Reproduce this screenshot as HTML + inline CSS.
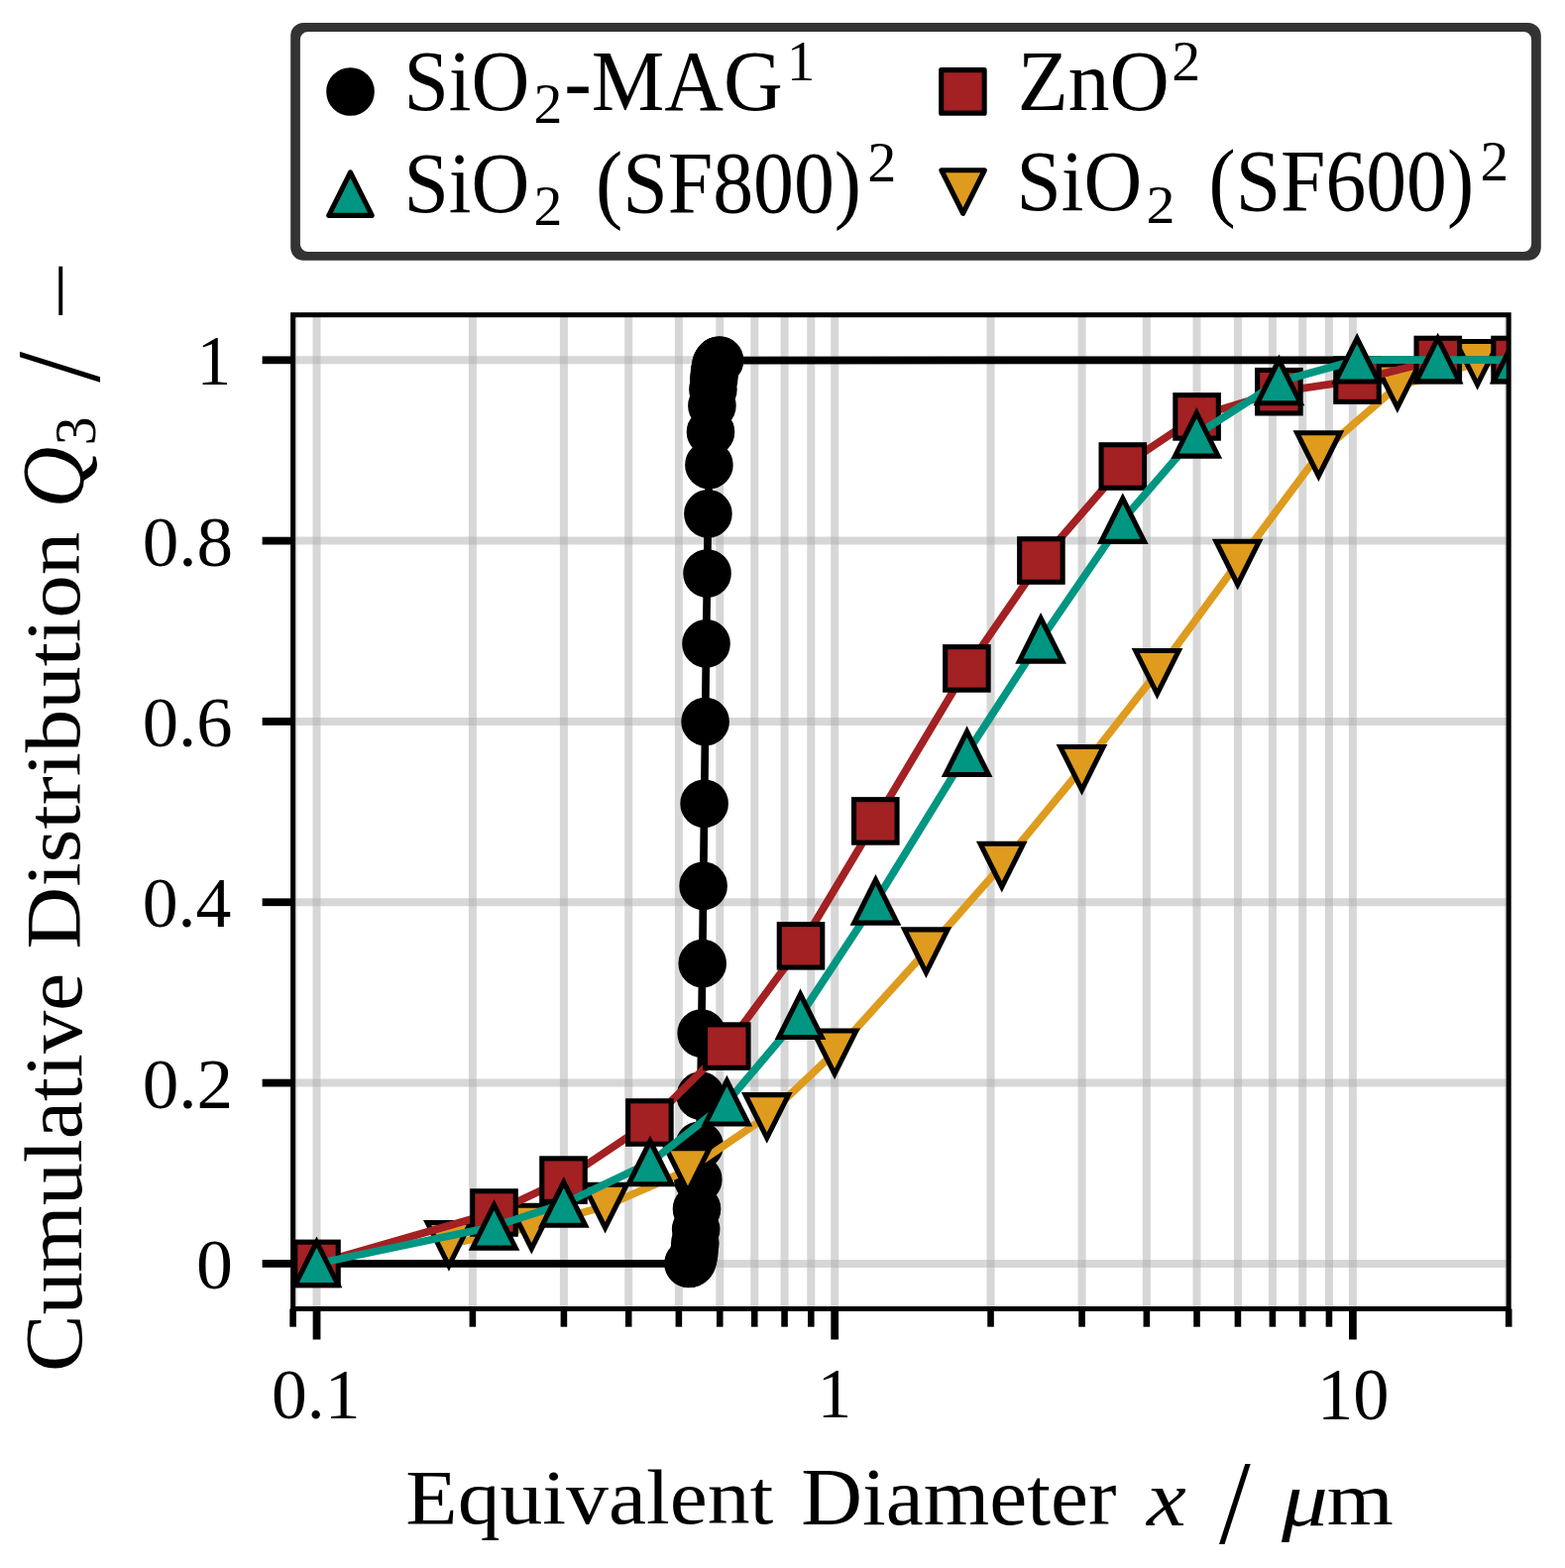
<!DOCTYPE html>
<html><head><meta charset="utf-8"><title>Cumulative Distribution</title>
<style>html,body{margin:0;padding:0;background:#fff;overflow:hidden;} svg{display:block;}</style></head>
<body><svg width="1579" height="1582" viewBox="0 0 1579 1582">
<defs><clipPath id="ax"><rect x="295.6" y="317.7" width="1226.60" height="1002.80"/></clipPath></defs>
<rect width="1579" height="1582" fill="#fff"/>
<g stroke="#b0b0b0" stroke-opacity="0.5" stroke-width="8.0" clip-path="url(#ax)"><line x1="295.61" y1="317.70" x2="295.61" y2="1320.50"/><line x1="319.53" y1="317.70" x2="319.53" y2="1320.50"/><line x1="476.87" y1="317.70" x2="476.87" y2="1320.50"/><line x1="568.91" y1="317.70" x2="568.91" y2="1320.50"/><line x1="634.21" y1="317.70" x2="634.21" y2="1320.50"/><line x1="684.86" y1="317.70" x2="684.86" y2="1320.50"/><line x1="726.25" y1="317.70" x2="726.25" y2="1320.50"/><line x1="761.24" y1="317.70" x2="761.24" y2="1320.50"/><line x1="791.55" y1="317.70" x2="791.55" y2="1320.50"/><line x1="818.28" y1="317.70" x2="818.28" y2="1320.50"/><line x1="842.20" y1="317.70" x2="842.20" y2="1320.50"/><line x1="999.54" y1="317.70" x2="999.54" y2="1320.50"/><line x1="1091.58" y1="317.70" x2="1091.58" y2="1320.50"/><line x1="1156.88" y1="317.70" x2="1156.88" y2="1320.50"/><line x1="1207.53" y1="317.70" x2="1207.53" y2="1320.50"/><line x1="1248.92" y1="317.70" x2="1248.92" y2="1320.50"/><line x1="1283.91" y1="317.70" x2="1283.91" y2="1320.50"/><line x1="1314.22" y1="317.70" x2="1314.22" y2="1320.50"/><line x1="1340.95" y1="317.70" x2="1340.95" y2="1320.50"/><line x1="1364.87" y1="317.70" x2="1364.87" y2="1320.50"/><line x1="1522.21" y1="317.70" x2="1522.21" y2="1320.50"/><line x1="295.60" y1="1274.90" x2="1522.20" y2="1274.90"/><line x1="295.60" y1="1092.58" x2="1522.20" y2="1092.58"/><line x1="295.60" y1="910.26" x2="1522.20" y2="910.26"/><line x1="295.60" y1="727.94" x2="1522.20" y2="727.94"/><line x1="295.60" y1="545.62" x2="1522.20" y2="545.62"/><line x1="295.60" y1="363.30" x2="1522.20" y2="363.30"/></g>
<g stroke="#000" fill="none"><line x1="319.53" y1="1320.50" x2="319.53" y2="1351.50" stroke-width="7.8"/><line x1="842.20" y1="1320.50" x2="842.20" y2="1351.50" stroke-width="7.8"/><line x1="1364.87" y1="1320.50" x2="1364.87" y2="1351.50" stroke-width="7.8"/><line x1="295.61" y1="1320.50" x2="295.61" y2="1338.70" stroke-width="6.6"/><line x1="476.87" y1="1320.50" x2="476.87" y2="1338.70" stroke-width="6.6"/><line x1="568.91" y1="1320.50" x2="568.91" y2="1338.70" stroke-width="6.6"/><line x1="634.21" y1="1320.50" x2="634.21" y2="1338.70" stroke-width="6.6"/><line x1="684.86" y1="1320.50" x2="684.86" y2="1338.70" stroke-width="6.6"/><line x1="726.25" y1="1320.50" x2="726.25" y2="1338.70" stroke-width="6.6"/><line x1="761.24" y1="1320.50" x2="761.24" y2="1338.70" stroke-width="6.6"/><line x1="791.55" y1="1320.50" x2="791.55" y2="1338.70" stroke-width="6.6"/><line x1="818.28" y1="1320.50" x2="818.28" y2="1338.70" stroke-width="6.6"/><line x1="999.54" y1="1320.50" x2="999.54" y2="1338.70" stroke-width="6.6"/><line x1="1091.58" y1="1320.50" x2="1091.58" y2="1338.70" stroke-width="6.6"/><line x1="1156.88" y1="1320.50" x2="1156.88" y2="1338.70" stroke-width="6.6"/><line x1="1207.53" y1="1320.50" x2="1207.53" y2="1338.70" stroke-width="6.6"/><line x1="1248.92" y1="1320.50" x2="1248.92" y2="1338.70" stroke-width="6.6"/><line x1="1283.91" y1="1320.50" x2="1283.91" y2="1338.70" stroke-width="6.6"/><line x1="1314.22" y1="1320.50" x2="1314.22" y2="1338.70" stroke-width="6.6"/><line x1="1340.95" y1="1320.50" x2="1340.95" y2="1338.70" stroke-width="6.6"/><line x1="1522.21" y1="1320.50" x2="1522.21" y2="1338.70" stroke-width="6.6"/><line x1="295.60" y1="1274.90" x2="264.60" y2="1274.90" stroke-width="7.8"/><line x1="295.60" y1="1092.58" x2="264.60" y2="1092.58" stroke-width="7.8"/><line x1="295.60" y1="910.26" x2="264.60" y2="910.26" stroke-width="7.8"/><line x1="295.60" y1="727.94" x2="264.60" y2="727.94" stroke-width="7.8"/><line x1="295.60" y1="545.62" x2="264.60" y2="545.62" stroke-width="7.8"/><line x1="295.60" y1="363.30" x2="264.60" y2="363.30" stroke-width="7.8"/></g>
<g clip-path="url(#ax)"><path d="M319.50,1274.90 L694.50,1274.83 L695.35,1274.74 L696.20,1274.53 L697.05,1274.09 L697.90,1273.20 L698.75,1271.50 L699.60,1268.40 L700.45,1263.03 L701.30,1254.20 L702.15,1240.37 L703.00,1219.79 L704.30,1190.04 L705.60,1155.74 L706.90,1105.65 L707.70,1042.49 L708.70,972.12 L709.60,893.85 L710.60,810.74 L711.60,728.06 L712.50,649.39 L713.50,578.50 L714.40,518.31 L715.40,469.09 L717.00,435.83 L718.40,409.34 L719.40,392.81 L720.24,381.87 L721.08,374.58 L721.91,369.91 L722.75,367.04 L723.59,365.34 L724.42,364.37 L725.26,363.84 L726.10,363.57 L1530.00,363.30" fill="none" stroke="#000" stroke-width="7.7" stroke-linejoin="round" stroke-linecap="butt"/><g stroke="#000" stroke-width="5.1"><circle cx="694.50" cy="1274.83" r="21.75" fill="#000"/><circle cx="695.35" cy="1274.74" r="21.75" fill="#000"/><circle cx="696.20" cy="1274.53" r="21.75" fill="#000"/><circle cx="697.05" cy="1274.09" r="21.75" fill="#000"/><circle cx="697.90" cy="1273.20" r="21.75" fill="#000"/><circle cx="698.75" cy="1271.50" r="21.75" fill="#000"/><circle cx="699.60" cy="1268.40" r="21.75" fill="#000"/><circle cx="700.45" cy="1263.03" r="21.75" fill="#000"/><circle cx="701.30" cy="1254.20" r="21.75" fill="#000"/><circle cx="702.15" cy="1240.37" r="21.75" fill="#000"/><circle cx="703.00" cy="1219.79" r="21.75" fill="#000"/><circle cx="704.30" cy="1190.04" r="21.75" fill="#000"/><circle cx="705.60" cy="1155.74" r="21.75" fill="#000"/><circle cx="706.90" cy="1105.65" r="21.75" fill="#000"/><circle cx="707.70" cy="1042.49" r="21.75" fill="#000"/><circle cx="708.70" cy="972.12" r="21.75" fill="#000"/><circle cx="709.60" cy="893.85" r="21.75" fill="#000"/><circle cx="710.60" cy="810.74" r="21.75" fill="#000"/><circle cx="711.60" cy="728.06" r="21.75" fill="#000"/><circle cx="712.50" cy="649.39" r="21.75" fill="#000"/><circle cx="713.50" cy="578.50" r="21.75" fill="#000"/><circle cx="714.40" cy="518.31" r="21.75" fill="#000"/><circle cx="715.40" cy="469.09" r="21.75" fill="#000"/><circle cx="717.00" cy="435.83" r="21.75" fill="#000"/><circle cx="718.40" cy="409.34" r="21.75" fill="#000"/><circle cx="719.40" cy="392.81" r="21.75" fill="#000"/><circle cx="720.24" cy="381.87" r="21.75" fill="#000"/><circle cx="721.08" cy="374.58" r="21.75" fill="#000"/><circle cx="721.91" cy="369.91" r="21.75" fill="#000"/><circle cx="722.75" cy="367.04" r="21.75" fill="#000"/><circle cx="723.59" cy="365.34" r="21.75" fill="#000"/><circle cx="724.42" cy="364.37" r="21.75" fill="#000"/><circle cx="725.26" cy="363.84" r="21.75" fill="#000"/><circle cx="726.10" cy="363.57" r="21.75" fill="#000"/></g><path d="M452.90,1255.30 L536.30,1238.00 L610.60,1217.00 L694.00,1180.50 L773.80,1126.40 L842.10,1061.80 L934.40,959.60 L1010.80,873.00 L1091.50,775.20 L1167.50,678.30 L1248.70,568.00 L1330.40,458.50 L1409.90,389.60 L1490.60,366.30 L1571.00,363.30" fill="none" stroke="#de9b1e" stroke-width="7.7" stroke-linejoin="round"/><g stroke="#000" stroke-width="5.1" stroke-linejoin="miter"><path d="M452.90,1277.05 L431.15,1233.55 L474.65,1233.55 Z" fill="#de9b1e"/><path d="M536.30,1259.75 L514.55,1216.25 L558.05,1216.25 Z" fill="#de9b1e"/><path d="M610.60,1238.75 L588.85,1195.25 L632.35,1195.25 Z" fill="#de9b1e"/><path d="M694.00,1202.25 L672.25,1158.75 L715.75,1158.75 Z" fill="#de9b1e"/><path d="M773.80,1148.15 L752.05,1104.65 L795.55,1104.65 Z" fill="#de9b1e"/><path d="M842.10,1083.55 L820.35,1040.05 L863.85,1040.05 Z" fill="#de9b1e"/><path d="M934.40,981.35 L912.65,937.85 L956.15,937.85 Z" fill="#de9b1e"/><path d="M1010.80,894.75 L989.05,851.25 L1032.55,851.25 Z" fill="#de9b1e"/><path d="M1091.50,796.95 L1069.75,753.45 L1113.25,753.45 Z" fill="#de9b1e"/><path d="M1167.50,700.05 L1145.75,656.55 L1189.25,656.55 Z" fill="#de9b1e"/><path d="M1248.70,589.75 L1226.95,546.25 L1270.45,546.25 Z" fill="#de9b1e"/><path d="M1330.40,480.25 L1308.65,436.75 L1352.15,436.75 Z" fill="#de9b1e"/><path d="M1409.90,411.35 L1388.15,367.85 L1431.65,367.85 Z" fill="#de9b1e"/><path d="M1490.60,388.05 L1468.85,344.55 L1512.35,344.55 Z" fill="#de9b1e"/><path d="M1571.00,385.05 L1549.25,341.55 L1592.75,341.55 Z" fill="#de9b1e"/></g><path d="M319.50,1274.90 L498.50,1223.50 L568.50,1190.60 L655.40,1132.50 L733.30,1055.60 L808.00,954.30 L883.30,828.40 L975.40,674.40 L1050.40,565.50 L1132.80,470.50 L1207.60,420.40 L1290.40,395.20 L1369.50,383.60 L1450.80,363.00 L1528.60,363.00" fill="none" stroke="#a32023" stroke-width="7.7" stroke-linejoin="round"/><g stroke="#000" stroke-width="5.1" stroke-linejoin="miter"><rect x="297.75" y="1253.15" width="43.5" height="43.5" fill="#a32023"/><rect x="476.75" y="1201.75" width="43.5" height="43.5" fill="#a32023"/><rect x="546.75" y="1168.85" width="43.5" height="43.5" fill="#a32023"/><rect x="633.65" y="1110.75" width="43.5" height="43.5" fill="#a32023"/><rect x="711.55" y="1033.85" width="43.5" height="43.5" fill="#a32023"/><rect x="786.25" y="932.55" width="43.5" height="43.5" fill="#a32023"/><rect x="861.55" y="806.65" width="43.5" height="43.5" fill="#a32023"/><rect x="953.65" y="652.65" width="43.5" height="43.5" fill="#a32023"/><rect x="1028.65" y="543.75" width="43.5" height="43.5" fill="#a32023"/><rect x="1111.05" y="448.75" width="43.5" height="43.5" fill="#a32023"/><rect x="1185.85" y="398.65" width="43.5" height="43.5" fill="#a32023"/><rect x="1268.65" y="373.45" width="43.5" height="43.5" fill="#a32023"/><rect x="1347.75" y="361.85" width="43.5" height="43.5" fill="#a32023"/><rect x="1429.05" y="341.25" width="43.5" height="43.5" fill="#a32023"/><rect x="1506.85" y="341.25" width="43.5" height="43.5" fill="#a32023"/></g><path d="M319.50,1274.90 L498.50,1237.40 L568.80,1214.50 L656.00,1173.00 L733.40,1112.20 L807.50,1024.80 L883.50,909.40 L975.60,759.80 L1050.10,645.40 L1132.80,524.60 L1207.30,438.40 L1290.40,385.00 L1369.20,363.20 L1450.70,363.10 L1528.70,363.10" fill="none" stroke="#009682" stroke-width="7.7" stroke-linejoin="round"/><g stroke="#000" stroke-width="5.1" stroke-linejoin="miter"><path d="M319.50,1253.15 L297.75,1296.65 L341.25,1296.65 Z" fill="#009682"/><path d="M498.50,1215.65 L476.75,1259.15 L520.25,1259.15 Z" fill="#009682"/><path d="M568.80,1192.75 L547.05,1236.25 L590.55,1236.25 Z" fill="#009682"/><path d="M656.00,1151.25 L634.25,1194.75 L677.75,1194.75 Z" fill="#009682"/><path d="M733.40,1090.45 L711.65,1133.95 L755.15,1133.95 Z" fill="#009682"/><path d="M807.50,1003.05 L785.75,1046.55 L829.25,1046.55 Z" fill="#009682"/><path d="M883.50,887.65 L861.75,931.15 L905.25,931.15 Z" fill="#009682"/><path d="M975.60,738.05 L953.85,781.55 L997.35,781.55 Z" fill="#009682"/><path d="M1050.10,623.65 L1028.35,667.15 L1071.85,667.15 Z" fill="#009682"/><path d="M1132.80,502.85 L1111.05,546.35 L1154.55,546.35 Z" fill="#009682"/><path d="M1207.30,416.65 L1185.55,460.15 L1229.05,460.15 Z" fill="#009682"/><path d="M1290.40,363.25 L1268.65,406.75 L1312.15,406.75 Z" fill="#009682"/><path d="M1369.20,341.45 L1347.45,384.95 L1390.95,384.95 Z" fill="#009682"/><path d="M1450.70,341.35 L1428.95,384.85 L1472.45,384.85 Z" fill="#009682"/><path d="M1528.70,341.35 L1506.95,384.85 L1550.45,384.85 Z" fill="#009682"/></g></g>
<rect x="295.6" y="317.7" width="1226.60" height="1002.80" fill="none" stroke="#000" stroke-width="5" stroke-linejoin="miter"/>
<path d="M310.9,31.9 L1537.1,31.9 A8.0,8.0 0 0 1 1545.1,39.9 L1545.1,246.0 A8.0,8.0 0 0 1 1537.1,254.0 L310.9,254.0 A8.0,8.0 0 0 1 302.9,246.0 L302.9,39.9 A8.0,8.0 0 0 1 310.9,31.9 Z" fill="#fff"/><path d="M306.2,23.0 L1541.8,23.0 A13.0,13.0 0 0 1 1554.8,36.0 L1554.8,249.7 A13.0,13.0 0 0 1 1541.8,262.7 L306.2,262.7 A13.0,13.0 0 0 1 293.2,249.7 L293.2,36.0 A13.0,13.0 0 0 1 306.2,23.0 Z M310.9,31.9 L1537.1,31.9 A8.0,8.0 0 0 1 1545.1,39.9 L1545.1,246.0 A8.0,8.0 0 0 1 1537.1,254.0 L310.9,254.0 A8.0,8.0 0 0 1 302.9,246.0 L302.9,39.9 A8.0,8.0 0 0 1 310.9,31.9 Z" fill="#333" fill-rule="evenodd"/><g stroke="#000" stroke-width="5.1" stroke-linejoin="round"><circle cx="353.50" cy="92.50" r="21.75" fill="#000"/><rect x="949.65" y="70.65" width="43.5" height="43.5" fill="#a32023"/><path d="M353.50,173.85 L331.75,217.35 L375.25,217.35 Z" fill="#009682"/><path d="M971.60,215.25 L949.85,171.75 L993.35,171.75 Z" fill="#de9b1e"/></g>
<g font-family="Liberation Serif, serif" font-size="80" fill="#000"><text transform="matrix(0.86786 0 0 0.90458 198.551 388.000)">1</text><text transform="matrix(0.91560 0 0 0.90257 143.670 570.717)">0.8</text><text transform="matrix(0.90784 0 0 0.89706 143.695 752.624)">0.6</text><text transform="matrix(0.89644 0 0 0.90809 143.731 934.810)">0.4</text><text transform="matrix(0.91450 0 0 0.90074 143.674 1117.619)">0.2</text><text transform="matrix(0.92262 0 0 0.90370 197.948 1300.077)">0</text><text transform="matrix(0.89457 0 0 0.89706 274.037 1430.824)">0.1</text><text transform="matrix(0.86071 0 0 0.90267 824.703 1430.000)">1</text><text transform="matrix(0.90661 0 0 0.92037 1328.972 1431.664)">10</text><text transform="matrix(1.07072 0 0 0.97500 409.330 1537.220)">Equivalent</text><text transform="matrix(1.06929 0 0 1.02425 808.234 1538.081)">Diameter</text><text transform="matrix(1.12079 0 0 1.00000 1156.897 1539.200)" font-style="italic">x</text><text transform="matrix(1.42727 0 0 1.50000 1230.100 1556.600)">/</text><text transform="matrix(1.16755 0 0 0.97015 1292.900 1538.501)" font-style="italic">μ</text><text transform="matrix(1.07770 0 0 0.94415 1338.676 1538.300)">m</text><text transform="matrix(0 -1.07816 1.04107 0 82.067 1384.050)">Cumulative</text><text transform="matrix(0 -1.08794 0.98214 0 80.414 957.411)">Distribution</text><text transform="matrix(0 -1.07115 1.09909 0 82.832 512.413)" font-style="italic">Q</text><text transform="matrix(0 -0.71646 0.72948 0 96.316 449.166)">3</text><text transform="matrix(0 -1.39091 1.50564 0 99.995 385.700)">/</text><text transform="matrix(0 -1.32258 1.00000 0 87.500 323.290)">−</text><text transform="matrix(1.01897 0 0 1.08396 407.501 111.033)">SiO</text><text transform="matrix(0.72188 0 0 0.70265 538.401 123.900)">2</text><text transform="matrix(1.03365 0 0 1.09142 569.206 110.927)">-MAG</text><text transform="matrix(0.70714 0 0 0.70992 794.109 80.600)">1</text><text transform="matrix(1.04382 0 0 1.08396 1026.725 110.933)">ZnO</text><text transform="matrix(0.72500 0 0 0.70455 1182.290 80.600)">2</text><text transform="matrix(1.01897 0 0 1.08209 407.501 214.134)">SiO</text><text transform="matrix(0.72188 0 0 0.70455 538.401 227.100)">2</text><text transform="matrix(1.02273 0 0 1.10417 600.918 214.150)">(SF800)</text><text transform="matrix(0.72813 0 0 0.70265 875.179 183.200)">2</text><text transform="matrix(1.01724 0 0 1.08396 1025.610 211.833)">SiO</text><text transform="matrix(0.72500 0 0 0.69886 1156.490 225.000)">2</text><text transform="matrix(1.02038 0 0 1.10972 1219.527 212.057)">(SF600)</text><text transform="matrix(0.71562 0 0 0.71023 1493.624 181.600)">2</text></g>
</svg></body></html>
